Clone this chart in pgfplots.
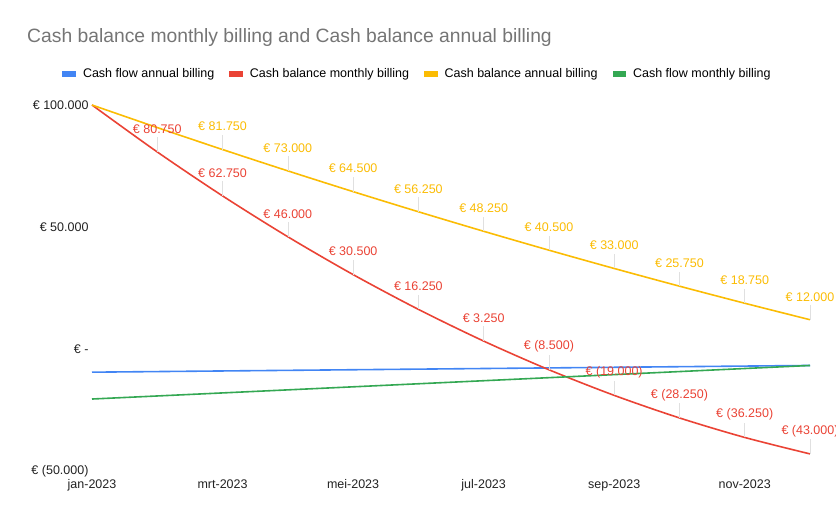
\documentclass[border=0pt]{standalone}
\usepackage{fontspec}
\setmainfont{Liberation Sans}
\usepackage{pgfplots}
\usepackage{pgfplotstable}
\pgfplotsset{compat=1.18}
\definecolor{gblue}{HTML}{4285F4}
\definecolor{gred}{HTML}{EA4335}
\definecolor{gyellow}{HTML}{FBBC04}
\definecolor{ggreen}{HTML}{34A853}
\definecolor{gtitle}{HTML}{757575}
\definecolor{gtick}{HTML}{222222}

\pgfplotstableread[col sep=comma]{
x,y
0,-9500
1,-9250
2,-9000
3,-8750
4,-8500
5,-8250
6,-8000
7,-7750
8,-7500
9,-7250
10,-7000
11,-6750
}\cfannual

\pgfplotstableread[col sep=comma]{
x,y
0,-20500
1,-19250
2,-18000
3,-16750
4,-15500
5,-14250
6,-13000
7,-11750
8,-10500
9,-9250
10,-8000
11,-6750
}\cfmonthly

\pgfplotstableread[col sep=comma]{
x,y,e,lab
0,100000,0,{}
1,80750,6000,€ 80.750
2,62750,6000,€ 62.750
3,46000,6000,€ 46.000
4,30500,6000,€ 30.500
5,16250,6000,€ 16.250
6,3250,6000,€ 3.250
7,-8500,6000,€ (8.500)
8,-19000,6000,€ (19.000)
9,-28250,6000,€ (28.250)
10,-36250,6000,€ (36.250)
11,-43000,6000,€ (43.000)
}\cbmonthly

\pgfplotstableread[col sep=comma]{
x,y,e,lab
0,100000,0,{}
1,90750,0,{}
2,81750,6000,€ 81.750
3,73000,6000,€ 73.000
4,64500,6000,€ 64.500
5,56250,6000,€ 56.250
6,48250,6000,€ 48.250
7,40500,6000,€ 40.500
8,33000,6000,€ 33.000
9,25750,6000,€ 25.750
10,18750,6000,€ 18.750
11,12000,6000,€ 12.000
}\cbannual

\begin{document}
\begin{tikzpicture}
\useasboundingbox (0,0) rectangle (836bp,518bp);
\clip (0,0) rectangle (836bp,518bp);
\node[anchor=base west, font=\fontsize{19.3bp}{22bp}\selectfont, text=gtitle, inner sep=0] at (27bp,475bp) {Cash balance monthly billing and Cash balance annual billing};
\begin{axis}[
  at={(92bp,47bp)}, anchor=south west,
  scale only axis, width=718bp, height=366bp,
  xmin=0, xmax=11, ymin=-50000, ymax=100000,
  axis line style={draw=none}, tick style={draw=none},
  xtick={0,2,4,6,8,10},
  xticklabels={jan-2023,mrt-2023,mei-2023,jul-2023,sep-2023,nov-2023},
  ytick={-50000,0,50000,100000},
  yticklabels={€ (50.000),€ -,€ 50.000,€ 100.000},
  scaled y ticks=false,
  tick label style={font=\fontsize{12.5bp}{14bp}\selectfont, text=gtick},
  xticklabel style={yshift=-5bp},
  clip=false,
  legend columns=4,
  legend style={at={(0.4534,1.0847)}, anchor=center, draw=none, fill=none,
    font=\fontsize{12.5bp}{14bp}\selectfont, inner sep=0pt,
    /tikz/every even column/.append style={column sep=13bp},
    /tikz/every odd column/.append style={column sep=5bp}},
  legend image code/.code={\fill[#1] (0bp,-2.2bp) rectangle (12bp,2.2bp);},
  every node near coord/.style={anchor=center, yshift=23bp, font=\fontsize{12.5bp}{14bp}\selectfont, inner sep=0pt},
]
\addplot[gblue, line width=1.6bp, no markers] table[x=x,y=y] {\cfannual};
\addlegendentry{Cash flow annual billing}
\addplot[gred, line width=1.6bp, no markers, smooth,
  nodes near coords, point meta=explicit symbolic,
  error bars/.cd, y dir=plus, y explicit, error mark=none,
  error bar style={line width=0.6bp, color=black!12}]
  table[x=x,y=y,y error=e,meta=lab,col sep=comma] {\cbmonthly};
\addlegendentry{Cash balance monthly billing}
\addplot[gyellow, line width=1.6bp, no markers, smooth,
  nodes near coords, point meta=explicit symbolic,
  error bars/.cd, y dir=plus, y explicit, error mark=none,
  error bar style={line width=0.6bp, color=black!12}]
  table[x=x,y=y,y error=e,meta=lab,col sep=comma] {\cbannual};
\addlegendentry{Cash balance annual billing}
\addplot[ggreen, line width=1.6bp, no markers] table[x=x,y=y] {\cfmonthly};
\addlegendentry{Cash flow monthly billing}
\end{axis}
\end{tikzpicture}
\end{document}
